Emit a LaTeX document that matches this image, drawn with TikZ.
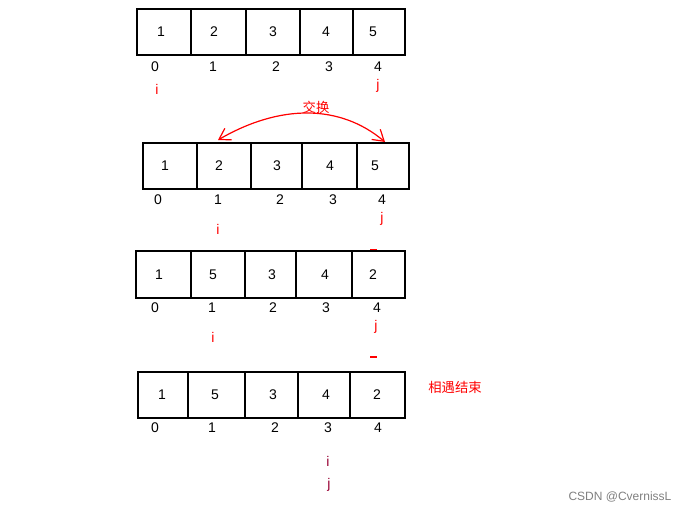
\documentclass[tikz,border=0pt]{standalone}
\usepackage{fontspec}
\setmainfont{Liberation Sans}
\newfontfamily\cjk{Noto Sans CJK SC}
\usetikzlibrary{arrows.meta}
\begin{document}
\begin{tikzpicture}[x=0.75pt,y=-0.75pt,
  cellbox/.style={draw=black,line width=1.2pt},
  num/.style={font=\fontsize{10.5}{12}\selectfont,inner sep=0pt},
  ptr/.style={num,text=red},
  ptrb/.style={num,text=purple!80!black}]
\useasboundingbox[fill=white] (0,0) rectangle (688,513);
% row 1
\draw[cellbox] (137,9) rectangle (405,55);
\foreach \x in {191,246,300,353} \draw[cellbox] (\x,9) -- (\x,55);
\foreach \x/\v [count=\k] in {161/1,214/2,273/3,326/4,373/5} \node[num] (a\k) at (\x,32) {\v};
\foreach \x/\v [count=\k] in {155/0,213/1,276/2,329/3,378/4} \node[num] (ai\k) at (\x,67) {\v};
\node[ptr] (i1) at (157,89) {i};
\node[ptr] (j1) at (378,86) {j};
% swap
\node[num,text=red,font=\cjk\fontsize{10}{12}\selectfont] (swap) at (316,107) {交换};
\coordinate (sl) at (218,140);
\coordinate (sr) at (385,142);
\draw[red,line width=0.9pt,<->,>={Straight Barb[length=8pt,width=10pt]}] (sl) .. controls (280,104) and (340,104) .. (sr);
% row 2
\draw[cellbox] (143,143) rectangle (409,189);
\foreach \x in {197,251,302,357} \draw[cellbox] (\x,143) -- (\x,189);
\foreach \x/\v [count=\k] in {165/1,219/2,277/3,330/4,375/5} \node[num] (b\k) at (\x,166) {\v};
\foreach \x/\v [count=\k] in {158/0,218/1,280/2,333/3,382/4} \node[num] (bi\k) at (\x,200) {\v};
\node[ptr] (i2) at (218,229) {i};
\node[ptr] (j2) at (382,219) {j};
\draw[red,line width=0.8pt] (370,250) -- (377,250);
% row 3
\draw[cellbox] (136,251) rectangle (405,298);
\foreach \x in {191,245,296,352} \draw[cellbox] (\x,251) -- (\x,298);
\foreach \x/\v [count=\k] in {159/1,213/5,272/3,325/4,373/2} \node[num] (c\k) at (\x,275) {\v};
\foreach \x/\v [count=\k] in {155/0,212/1,273/2,326/3,377/4} \node[num] (ci\k) at (\x,308) {\v};
\node[ptr] (j3) at (376,327) {j};
\node[ptr] (i3) at (213,337) {i};
\draw[red,line width=0.8pt] (370,357) -- (377,357);
% row 4
\draw[cellbox] (138,372) rectangle (405,418);
\foreach \x in {188,245,298,350} \draw[cellbox] (\x,372) -- (\x,418);
\foreach \x/\v [count=\k] in {162/1,215/5,273/3,326/4,377/2} \node[num] (d\k) at (\x,395) {\v};
\foreach \x/\v [count=\k] in {155/0,212/1,275/2,328/3,378/4} \node[num] (di\k) at (\x,428) {\v};
\node[num,text=red,font=\cjk\fontsize{10}{12}\selectfont] (end) at (455,387) {相遇结束};
\node[ptrb] (i4) at (328,461) {i};
\node[ptrb] (j4) at (329,485) {j};
\node[num,text=gray,font=\fontsize{9}{11}\selectfont] (wm) at (620,497) {CSDN @CvernissL};
\end{tikzpicture}
\end{document}
